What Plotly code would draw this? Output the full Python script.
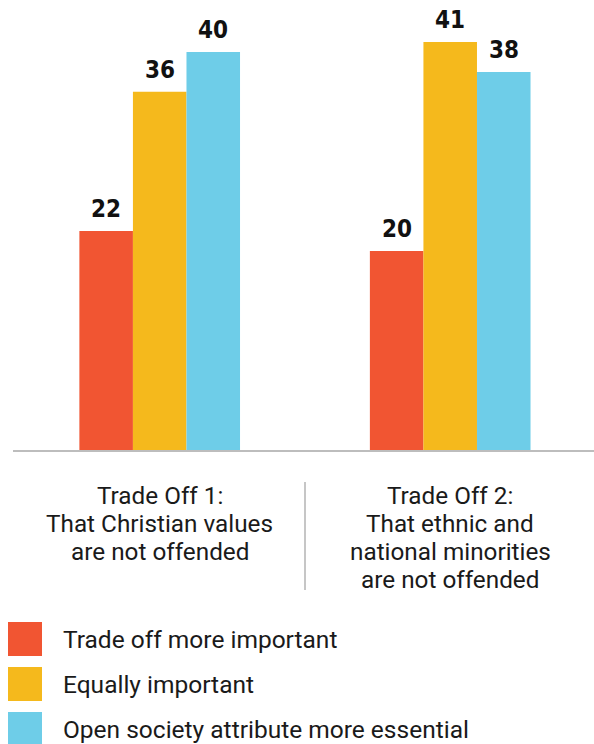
import plotly.graph_objects as go

# Survey results: share choosing each option, per trade-off
categories = ["Trade Off 1", "Trade Off 2"]
category_lines = [
    ["Trade Off 1:", "That Christian values", "are not offended"],
    ["Trade Off 2:", "That ethnic and", "national minorities", "are not offended"],
]
series_names = [
    "Trade off more important",
    "Equally important",
    "Open society attribute more essential",
]
trade_off_more = [22, 20]
equally = [36, 41]
open_society = [40, 38]
series_values = [trade_off_more, equally, open_society]
colors = ["#F15532", "#F5B91C", "#6ECDE8"]

W, H = 594, 744
ML, MR, MT, MB = 13, 0, 0, 294
PW = W - ML - MR
PH = H - MT - MB
BARGAP = 0.447
XR = [-0.505, 1.495]
YR = [0, 45.23]

TEXT_FONT = "Roboto, Liberation Sans, Arial, sans-serif"


def px_x(px):
    return (px - ML) / PW


def px_y(py):
    return (H - MB - py) / PH


fig = go.Figure()
for name, vals, col in zip(series_names, series_values, colors):
    fig.add_trace(go.Bar(x=categories, y=vals, name=name, marker=dict(color=col, line=dict(width=0)),
                         showlegend=False))

# value labels above bars
bar_w = (1 - BARGAP) / len(series_values)
annotations = []
for si, vals in enumerate(series_values):
    for ci, v in enumerate(vals):
        annotations.append(dict(
            x=ci + (si - 1) * bar_w, y=v, xref="x", yref="y",
            text=str(v), showarrow=False, yanchor="bottom", yshift=6,
            font=dict(family="DejaVu Sans Condensed, Liberation Sans Narrow, sans-serif",
                      size=24, color="#111111", weight="bold"),
        ))

# category labels under the axis, centred on each group, one line at a time
for ci, lines in enumerate(category_lines):
    for li, line in enumerate(lines):
        annotations.append(dict(
            x=ci, y=px_y(495 + li * 28), xref="x", yref="paper",
            text=line, showarrow=False, xanchor="center", yanchor="middle",
            font=dict(family=TEXT_FONT, size=24.3, color="#1a1a1a"),
        ))

# thin divider between the two groups
shapes = [dict(type="line", xref="paper", yref="paper",
               x0=px_x(305), x1=px_x(305), y0=px_y(482), y1=px_y(590),
               line=dict(color="#c6c6c6", width=2))]

# legend: swatches and names
for i, (name, col) in enumerate(zip(series_names, colors)):
    top = 622 + i * 45
    shapes.append(dict(type="rect", xref="paper", yref="paper",
                       x0=px_x(8), x1=px_x(42), y0=px_y(top + 34), y1=px_y(top),
                       fillcolor=col, line=dict(width=0)))
    annotations.append(dict(
        x=px_x(61), y=px_y(top + 17), xref="paper", yref="paper",
        text=name, showarrow=False, xanchor="left", yanchor="middle", align="left",
        font=dict(family=TEXT_FONT, size=24.5, color="#1a1a1a"),
    ))

fig.update_layout(
    width=W, height=H,
    margin=dict(l=ML, r=MR, t=MT, b=MB),
    barmode="group", bargap=BARGAP, bargroupgap=0,
    plot_bgcolor="white", paper_bgcolor="white",
    xaxis=dict(range=XR, showticklabels=False, showgrid=False, zeroline=False,
               showline=True, linecolor="#bdbdbd", linewidth=1.5, ticks=""),
    yaxis=dict(range=YR, visible=False, showgrid=False, zeroline=False),
    annotations=annotations, shapes=shapes,
)

fig.write_html("out.html")
